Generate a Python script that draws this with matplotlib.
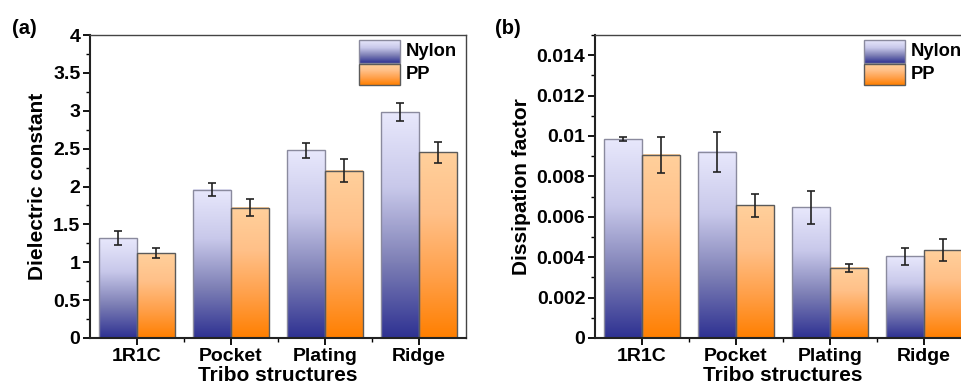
import numpy as np
import matplotlib
matplotlib.use("Agg")
import matplotlib.pyplot as plt
from matplotlib.colors import LinearSegmentedColormap
from matplotlib.ticker import MultipleLocator, FixedLocator

plt.rcParams['font.family'] = ['Liberation Sans', 'DejaVu Sans']
plt.rcParams['font.weight'] = 'bold'

categories = ['1R1C', 'Pocket', 'Plating', 'Ridge']
series = ['Nylon', 'PP']

diel_nylon = [1.32, 1.96, 2.48, 2.98]
diel_nylon_err = [0.088, 0.092, 0.10, 0.12]
diel_pp = [1.12, 1.72, 2.21, 2.45]
diel_pp_err = [0.062, 0.11, 0.15, 0.14]

diss_nylon = [0.00984, 0.00921, 0.00647, 0.00404]
diss_nylon_err = [0.0001, 0.001, 0.00082, 0.00041]
diss_pp = [0.00908, 0.00657, 0.00348, 0.00434]
diss_pp_err = [0.00089, 0.00056, 0.0002, 0.00055]

nylon_cmap = LinearSegmentedColormap.from_list('ny', ['#2E3192', '#7D7FB5', '#C8C8EA', '#E8E8FC'])
pp_cmap = LinearSegmentedColormap.from_list('pp', ['#FF7F00', '#FFA04A', '#FFC088', '#FFD09C'])
edge = {'Nylon': '#8A8A9E', 'PP': '#5A5A5A'}
cmaps = {'Nylon': nylon_cmap, 'PP': pp_cmap}

grad = np.linspace(0, 1, 256).reshape(-1, 1)

W, H = 961, 388
fig = plt.figure(figsize=(W / 100, H / 100), dpi=100)

def draw_panel(rect, vals, errs, ylim, major, minor, ylabel, fmt, letter, letter_x):
    ax = fig.add_axes(rect)
    x = np.arange(1, len(categories) + 1)
    bw = 0.4
    offsets = [-bw / 2, bw / 2]
    for s, off in zip(series, offsets):
        v = vals[s]
        e = errs[s]
        for xi, yi in zip(x, v):
            x0 = xi + off - bw / 2
            ax.imshow(grad, cmap=cmaps[s], origin='lower', aspect='auto',
                      extent=[x0, x0 + bw, 0, yi], zorder=1, interpolation='bilinear')
        ax.bar(x + off, v, width=bw, facecolor='none', edgecolor=edge[s], linewidth=1.0, zorder=2)
        ax.errorbar(x + off, v, yerr=e, fmt='none', ecolor='#222222', elinewidth=1.2,
                    capsize=2.7, capthick=1.2, zorder=3)
    ax.set_xlim(0.5, 4.5)
    ax.set_ylim(*ylim)
    ax.xaxis.set_major_locator(FixedLocator(x))
    ax.xaxis.set_minor_locator(FixedLocator([1.5, 2.5, 3.5]))
    ax.set_xticklabels(categories)
    ax.yaxis.set_major_locator(MultipleLocator(major))
    ax.yaxis.set_minor_locator(MultipleLocator(minor))
    ax.yaxis.set_major_formatter(plt.FuncFormatter(fmt))
    ax.tick_params(axis='both', which='major', direction='out', length=5, width=1.3,
                   labelsize=14, pad=2)
    ax.tick_params(axis='both', which='minor', direction='out', length=3, width=1.0)
    ax.tick_params(top=False, right=False, which='both')
    for lab in ax.get_xticklabels() + ax.get_yticklabels():
        lab.set_fontweight('bold')
    for sp in ['left', 'bottom']:
        ax.spines[sp].set_linewidth(1.5)
        ax.spines[sp].set_color('#222222')
    for sp in ['top', 'right']:
        ax.spines[sp].set_linewidth(1.0)
        ax.spines[sp].set_color('#444444')
    ax.set_ylabel(ylabel, fontsize=15, fontweight='bold', labelpad=4)
    ax.set_xlabel('Tribo structures', fontsize=15, fontweight='bold', labelpad=1)
    # legend drawn manually with gradient patches
    lx0, lx1 = 0.715, 0.825
    boxes = [(0.909, 0.982), (0.835, 0.905)]
    for s, (b0, b1) in zip(series, boxes):
        ax.imshow(grad, cmap=cmaps[s], origin='lower', aspect='auto',
                  extent=[lx0, lx1, b0, b1], transform=ax.transAxes, zorder=4,
                  interpolation='bilinear')
        ax.add_patch(plt.Rectangle((lx0, b0), lx1 - lx0, b1 - b0, transform=ax.transAxes,
                                   facecolor='none', edgecolor=edge[s], linewidth=1.0, zorder=5))
        ax.text(lx1 + 0.015, (b0 + b1) / 2, s, transform=ax.transAxes, fontsize=13.2,
                fontweight='bold', va='center', ha='left', zorder=6)
    ax.set_xlim(0.5, 4.5)
    ax.set_ylim(*ylim)
    fig.text(letter_x / W, 1 - 28 / H, letter, fontsize=14.5, fontweight='bold',
             ha='left', va='center')
    return ax

def fmt_a(v, pos):
    s = ('%.2f' % v).rstrip('0').rstrip('.')
    return s

def fmt_b(v, pos):
    if abs(v) < 1e-12:
        return '0'
    s = ('%.3f' % v).rstrip('0').rstrip('.')
    return s

draw_panel([90 / W, 1 - 338 / H, 376 / W, 303 / H],
           {'Nylon': diel_nylon, 'PP': diel_pp},
           {'Nylon': diel_nylon_err, 'PP': diel_pp_err},
           (0, 4), 0.5, 0.25, 'Dielectric constant', fmt_a, '(a)', 12)

draw_panel([595 / W, 1 - 338 / H, 376 / W, 303 / H],
           {'Nylon': diss_nylon, 'PP': diss_pp},
           {'Nylon': diss_nylon_err, 'PP': diss_pp_err},
           (0, 0.015), 0.002, 0.001, 'Dissipation factor', fmt_b, '(b)', 495)

fig.savefig('out.png', dpi=100)
